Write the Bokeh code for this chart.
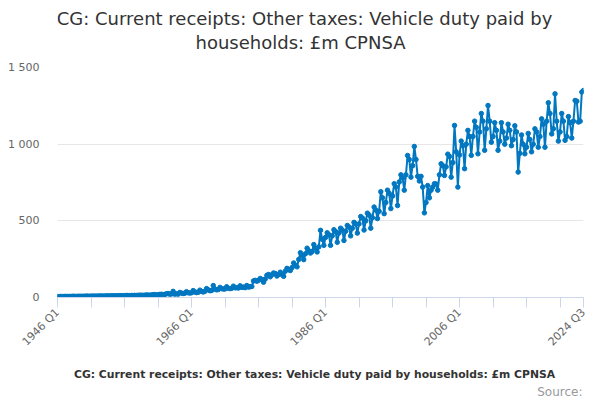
import math
from bokeh.plotting import figure
from bokeh.layouts import column
from bokeh.models import FixedTicker, Legend, LegendItem, ColumnDataSource, Range1d, Label
from bokeh.embed import file_html
from bokeh.resources import INLINE

title_line1 = "CG: Current receipts: Other taxes: Vehicle duty paid by"
title_line2 = "households: £m CPNSA"
series_name = "CG: Current receipts: Other taxes: Vehicle duty paid by households: £m CPNSA"
source_text = "Source:"
start_year = 1946

# quarterly values, £m, four per year
v1946_1955 = [6, 6, 7, 6, 7, 7, 7, 7, 7, 8, 8, 7, 8, 8, 8, 8, 8, 9, 9, 8,
              9, 9, 9, 9, 9, 10, 10, 9, 10, 10, 11, 10, 11, 11, 11, 11, 11, 12, 12, 12]
v1956_1965 = [12, 13, 13, 12, 13, 13, 14, 13, 14, 15, 15, 14, 15, 16, 16, 15,
              16, 18, 19, 17, 18, 20, 21, 19, 20, 24, 26, 22, 23, 40, 22, 25,
              22, 33, 29, 26, 28, 38, 31, 29]
v1966_1975 = [31, 45, 36, 32, 34, 48, 40, 36, 40, 58, 50, 44, 46, 78, 55, 50,
              52, 66, 58, 55, 56, 70, 60, 58, 60, 74, 63, 64, 62, 76, 66, 68,
              64, 78, 68, 70, 72, 108, 112, 106]
v1976_1985 = [112, 124, 118, 100, 120, 145, 150, 135, 148, 160, 156, 140, 150, 165, 150, 138,
              172, 190, 182, 176, 195, 225, 210, 200, 248, 292, 272, 247, 285, 322, 305, 290,
              300, 345, 322, 297, 330, 438, 380, 340]
v1986_1995 = [392, 422, 410, 340, 402, 442, 430, 360, 420, 452, 440, 372, 432, 470, 460, 402,
              452, 490, 480, 420, 480, 528, 518, 440, 500, 550, 538, 452, 520, 590, 570, 515,
              562, 690, 650, 547, 620, 700, 680, 580]
v1996_2005 = [662, 742, 720, 600, 753, 800, 780, 700, 800, 926, 900, 785, 860, 985, 900, 790,
              760, 790, 720, 552, 620, 730, 650, 700, 720, 742, 740, 700, 800, 872, 860, 796,
              852, 935, 920, 785, 880, 1122, 950, 720]
v2006_2015 = [930, 1020, 990, 840, 1000, 1090, 1050, 927, 1050, 1150, 1110, 937, 1080, 1200, 1150, 960,
              1100, 1252, 1150, 1013, 1050, 1140, 1090, 960, 1020, 1140, 1080, 1000, 1040, 1130, 1090, 990,
              1030, 1120, 1080, 818, 940, 1060, 1000, 937]
v2016_2024 = [980, 1070, 1030, 950, 1000, 1100, 1080, 980, 1050, 1165, 1130, 980, 1150, 1270, 1200, 1067,
              1100, 1328, 1150, 1020, 1080, 1200, 1150, 1025, 1050, 1180, 1140, 1040, 1150, 1285, 1280, 1144,
              1150, 1340, 1350]

values = v1946_1955 + v1956_1965 + v1966_1975 + v1976_1985 + v1986_1995 + v1996_2005 + v2006_2015 + v2016_2024
n = len(values)
quarters = [f"{start_year + i // 4} Q{i % 4 + 1}" for i in range(n)]
xs = list(range(n))

y_ticks = [0, 500, 1000, 1500]
y_tick_labels = ["0", "500", "1 000", "1 500"]
x_label_years = [1946, 1966, 1986, 2006]

colour = "#0077c0"
W = 600
BL, BR = 57, 17         # shared left / right borders so the stacked frames line up
FW = W - BL - BR        # frame width


def blank_figure(h):
    f = figure(width=W, height=h, output_backend="svg", toolbar_location=None,
               x_range=Range1d(0, FW), y_range=Range1d(0, h),
               x_axis_type=None, y_axis_type=None,
               min_border_left=BL, min_border_right=BR, min_border_top=0, min_border_bottom=0)
    f.grid.visible = False
    f.outline_line_color = None
    f.background_fill_color = "white"
    f.border_fill_color = "white"
    return f


# ---- header with the two title lines
HH = 57
header = blank_figure(HH)
header.add_layout(Label(x=247, y=HH - 18, text=title_line1, text_align="center", text_baseline="middle",
                        text_font="DejaVu Sans", text_font_size="18px", text_color="#333333"))
header.add_layout(Label(x=243, y=HH - 42, text=title_line2, text_align="center", text_baseline="middle",
                        text_font="DejaVu Sans", text_font_size="18px", text_color="#333333"))

# ---- main chart
src = ColumnDataSource(data=dict(x=xs, y=values, q=quarters))

fig = figure(width=W, height=299, output_backend="svg", toolbar_location=None,
             x_range=Range1d(0, n - 1), y_range=Range1d(0, 1500),
             min_border_left=BL, min_border_right=BR, min_border_top=10, min_border_bottom=59)
fig.outline_line_color = None
fig.background_fill_color = "white"
fig.border_fill_color = "white"

fig.line("x", "y", source=src, line_color=colour, line_width=2)
fig.scatter("x", "y", source=src, size=4.5, fill_color=colour, line_color=colour)

x_ticks = list(range(0, n, 20)) + [n - 1]
overrides = {}
for t in x_ticks:
    if t == n - 1 or (quarters[t].endswith("Q1") and int(quarters[t][:4]) in x_label_years):
        overrides[t] = quarters[t]
    else:
        overrides[t] = ""
fig.xaxis.ticker = FixedTicker(ticks=x_ticks)
fig.xaxis.major_label_overrides = overrides
fig.xaxis.major_label_orientation = math.pi / 4
fig.xaxis.axis_line_color = "#ccd6eb"
fig.xaxis.major_tick_line_color = "#ccd6eb"
fig.xaxis.major_tick_out = 10
fig.xaxis.major_tick_in = 0
fig.xaxis.minor_tick_line_color = None
fig.xaxis.major_label_text_font = "DejaVu Sans"
fig.xaxis.major_label_text_font_size = "11px"
fig.xaxis.major_label_text_color = "#666666"
fig.xaxis.major_label_standoff = 3

fig.yaxis.ticker = FixedTicker(ticks=y_ticks)
fig.yaxis.major_label_overrides = dict(zip(y_ticks, y_tick_labels))
fig.yaxis.axis_line_color = None
fig.yaxis.major_tick_line_color = None
fig.yaxis.minor_tick_line_color = None
fig.yaxis.major_label_text_font = "DejaVu Sans"
fig.yaxis.major_label_text_font_size = "11px"
fig.yaxis.major_label_text_color = "#666666"
fig.yaxis.major_label_standoff = 12

fig.xgrid.grid_line_color = None
fig.ygrid.grid_line_color = "#e6e6e6"
fig.ygrid.ticker = FixedTicker(ticks=y_ticks)

# ---- footer with legend and source
FH = 42
footer = blank_figure(FH)
key_line = footer.line(x=[], y=[], line_color=colour, line_width=2)
key_pts = footer.scatter(x=[], y=[], size=4.5, fill_color=colour, line_color=colour)
legend = Legend(items=[LegendItem(label=series_name, renderers=[key_line, key_pts])],
                orientation="horizontal", location=(1, FH - 25),
                label_text_font="DejaVu Sans", label_text_font_size="10.8px",
                label_text_font_style="bold", label_text_color="#333333",
                glyph_width=12, glyph_height=12, label_standoff=4, label_height=14,
                border_line_color=None, background_fill_alpha=0,
                padding=0, margin=0, spacing=0)
footer.add_layout(legend, "center")
footer.add_layout(Label(x=FW - 1, y=7, text=source_text, text_align="right", text_baseline="middle",
                        text_font="DejaVu Sans", text_font_size="12px", text_color="#999999"))

p = column(header, fig, footer, spacing=0)

open("out.html", "w").write(file_html(p, INLINE))
